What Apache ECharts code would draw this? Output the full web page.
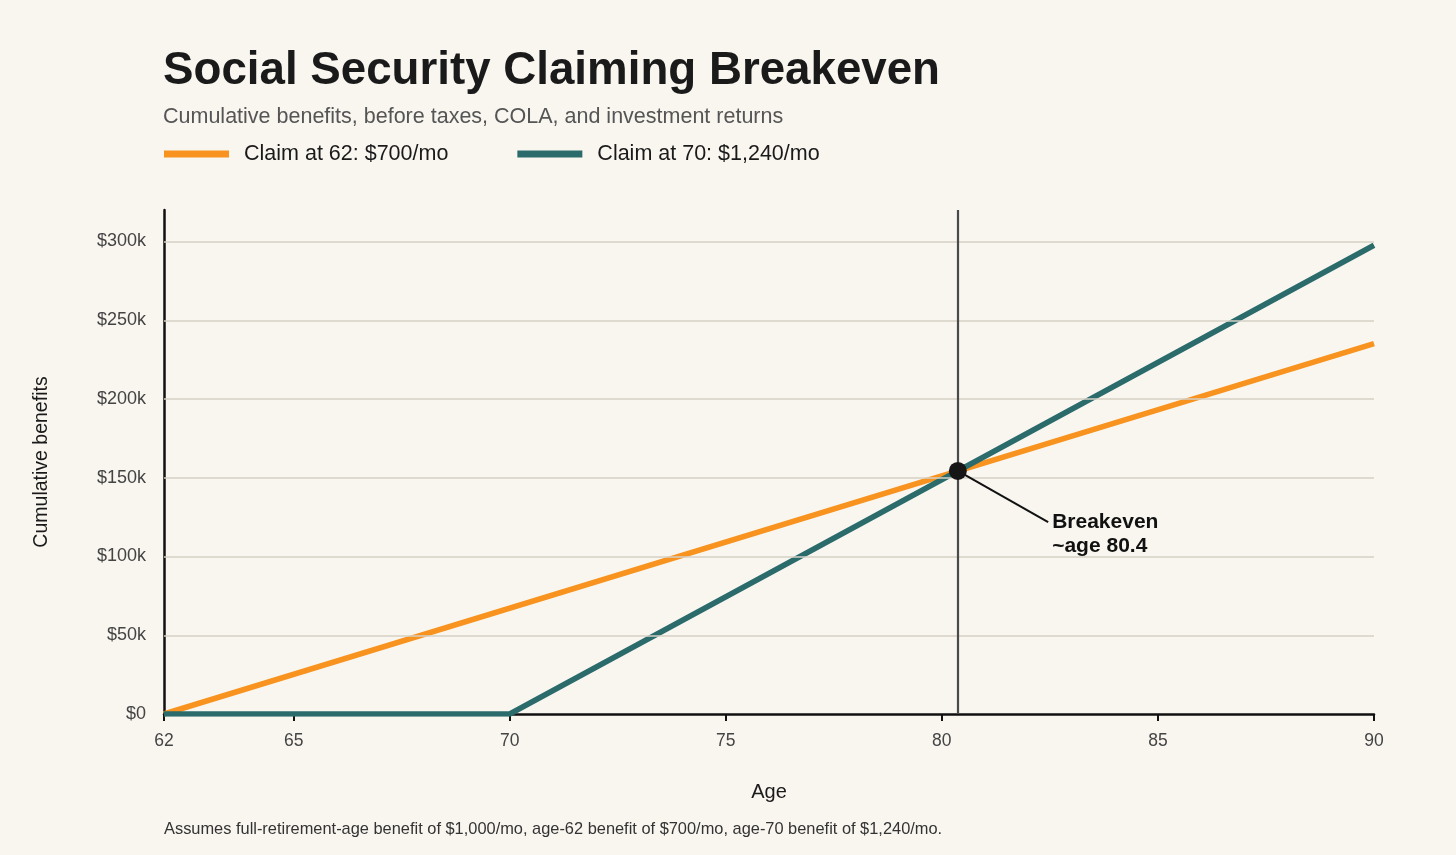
<!DOCTYPE html>
<html>
<head>
<meta charset="utf-8">
<script src="https://cdn.jsdelivr.net/npm/echarts@6/dist/echarts.min.js"></script>
<style>
html,body{margin:0;padding:0;background:#f9f6f0;}
#c{width:1456px;height:855px;}
</style>
</head>
<body>
<div id="c"></div>
<script>
// Data
const ageTicks = [62, 65, 70, 75, 80, 85, 90];
const yTicks = [0, 50000, 100000, 150000, 200000, 250000, 300000];
const claim62 = [[62, 0], [90, 235200]];
const claim70 = [[62, 0], [70, 0], [90, 297600]];
const breakeven = [80.37, 154300];
const annotEnd = [82.46, 121800];
const seriesNames = ['Claim at 62: $700/mo', 'Claim at 70: $1,240/mo'];

const FONT = '"Liberation Sans", Arial, sans-serif';
const chart = echarts.init(document.getElementById('c'));
const fmtY = v => v === 0 ? '$0' : '$' + (v / 1000) + 'k';

chart.setOption({
  backgroundColor: '#f9f6f0',
  textStyle: { fontFamily: FONT },
  animation: false,
  title: {
    text: 'Social Security Claiming Breakeven',
    subtext: 'Cumulative benefits, before taxes, COLA, and investment returns',
    left: 158, top: 43,
    itemGap: 12,
    textStyle: { fontSize: 45.7, fontWeight: 'bold', color: '#1a1a1a', fontFamily: FONT },
    subtextStyle: { fontSize: 21.5, color: '#555', fontFamily: FONT }
  },
  legend: {
    left: 159, top: 138,
    icon: 'rect', itemWidth: 65, itemHeight: 7, itemGap: 69,
    textStyle: { fontSize: 21.5, color: '#1a1a1a', fontFamily: FONT, padding: [0, 0, 0, 10] },
    data: seriesNames
  },
  grid: { left: 164, right: 82, top: 210, bottom: 141 },
  xAxis: {
    type: 'value', min: 62, max: 90,
    name: 'Age', nameLocation: 'middle', nameGap: 68,
    nameTextStyle: { fontSize: 20, color: '#1a1a1a' },
    axisLine: { show: true, lineStyle: { color: '#111', width: 2.5 } },
    axisTick: { show: true, length: 7, lineStyle: { color: '#111', width: 2 }, customValues: ageTicks },
    axisLabel: { fontSize: 17.5, color: '#444', margin: 18, customValues: ageTicks },
    splitLine: { show: false }
  },
  yAxis: {
    type: 'value', min: 0, max: 320000,
    name: 'Cumulative benefits', nameLocation: 'middle', nameGap: 112, nameRotate: 90,
    nameTextStyle: { fontSize: 19.5, color: '#1a1a1a' },
    axisLine: { show: true, lineStyle: { color: '#111', width: 2.5 } },
    axisTick: { show: false },
    axisLabel: { fontSize: 18, color: '#444', margin: 18, customValues: yTicks, formatter: fmtY },
    splitLine: { show: false }
  },
  series: [
    {
      name: 'grid', type: 'line', data: [], silent: true,
      markLine: {
        silent: true, symbol: 'none', label: { show: false },
        lineStyle: { color: '#d6d1c4', width: 1.5, type: 'solid' },
        data: yTicks.filter(v => v > 0).map(v => ({ yAxis: v }))
      }
    },
    {
      name: 'vline', type: 'line', data: [], silent: true,
      markLine: {
        silent: true, symbol: 'none', label: { show: false },
        lineStyle: { color: '#4a4a4a', width: 2.2, type: 'solid' },
        data: [{ xAxis: breakeven[0] }]
      }
    },
    {
      name: seriesNames[0], type: 'line', data: claim62, showSymbol: false,
      lineStyle: { color: '#f7931e', width: 5.5 }, itemStyle: { color: '#f7931e' }, z: 3
    },
    {
      name: seriesNames[1], type: 'line', data: claim70, showSymbol: false,
      lineStyle: { color: '#2b6b6c', width: 5.5 }, itemStyle: { color: '#2b6b6c' }, z: 4
    },
    {
      name: 'annot', type: 'line', data: [breakeven, annotEnd], showSymbol: false,
      lineStyle: { color: '#111', width: 2 }, z: 5, silent: true
    },
    {
      name: 'label', type: 'scatter', data: [annotEnd], symbolSize: 0, z: 6, silent: true,
      itemStyle: { opacity: 1 },
      label: {
        show: true, position: [4, -12], align: 'left', verticalAlign: 'top',
        formatter: 'Breakeven\n~age 80.4', fontSize: 21, fontWeight: 'bold',
        lineHeight: 24, color: '#111', opacity: 1, fontFamily: FONT
      }
    },
    {
      name: 'dot', type: 'scatter', data: [breakeven], symbolSize: 18, z: 7, silent: true,
      itemStyle: { color: '#161616', opacity: 1 }
    }
  ],
  graphic: [
    {
      type: 'text', left: 164, top: 821,
      style: {
        text: 'Assumes full-retirement-age benefit of $1,000/mo, age-62 benefit of $700/mo, age-70 benefit of $1,240/mo.',
        fontSize: 16.4, fill: '#333', fontFamily: FONT
      }
    }
  ]
});
</script>
</body>
</html>
